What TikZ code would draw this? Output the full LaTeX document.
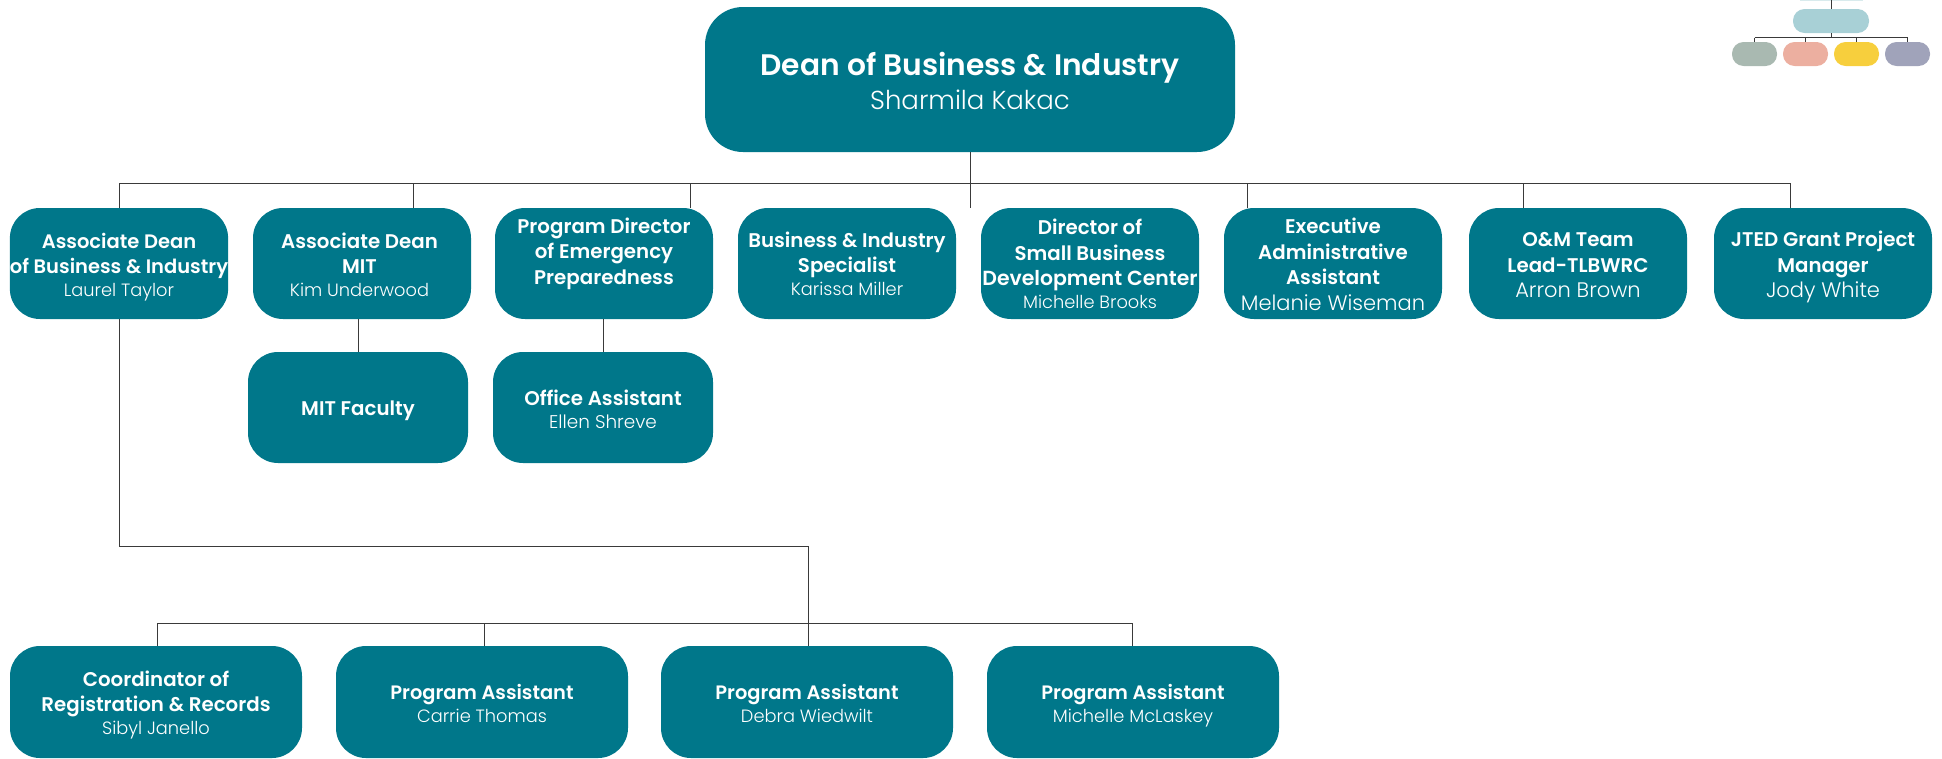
\documentclass[tikz,border=0pt]{standalone}
\usepackage{fontspec}
\setmainfont{Poppins}
\newfontfamily\lightf{Poppins Light}
\newfontfamily\boldf{Poppins SemiBold}
\usetikzlibrary{calc}
\definecolor{teal}{HTML}{00778A}
\definecolor{linec}{HTML}{3A3A3A}
\definecolor{legblue}{HTML}{A8D0D6}
\definecolor{leggray}{HTML}{A9B9B1}
\definecolor{legpink}{HTML}{ECAFA0}
\definecolor{legyellow}{HTML}{F7CF3D}
\definecolor{legpurple}{HTML}{A0A3BA}
\newcommand{\tdy}{-8.5pt}
\newcommand{\ttlx}[2][19.8]{\raisebox{\tdy}[0pt][0pt]{\boldf\fontsize{#1}{26}\selectfont #2}}
\newcommand{\nmx}[2][17.8]{\raisebox{\tdy}[0pt][0pt]{\lightf\fontsize{#1}{26}\selectfont #2}}
\tikzset{
  x=1pt,y=-1pt,
  textdy/.style={execute at begin node={\renewcommand{\tdy}{#1}}},
  boxn/.style={fill=teal,text=white,rounded corners=30pt,inner sep=0pt,align=center,minimum width=218pt,minimum height=111pt,font=\fontsize{19.8}{25.5}\selectfont},
  wide/.style={boxn,minimum width=292pt,minimum height=112pt},
  conn/.style={draw=linec,line width=0.95pt},
  leg/.style={rounded corners=11.5pt,inner sep=0pt,minimum width=45pt,minimum height=24pt},
  lconn/.style={draw=linec,line width=0.8pt}
}
\begin{document}
\begin{tikzpicture}
\useasboundingbox (0,0) rectangle (1942,758);
% Dean
\node[boxn,rounded corners=38pt,minimum width=530pt,minimum height=145pt,font=\fontsize{30}{34.5}\selectfont,textdy=-13pt] (dean) at (970,79.5) {\ttlx[29.7]{Dean of Business \& Industry}\\\nmx[26]{Sharmila Kakac}};
% second row
\node[boxn,textdy=-9pt] (a) at (119,263.5) {\ttlx[19.5]{Associate Dean}\\\ttlx[19.5]{of Business \& Industry}\\[-2.5pt]\nmx{Laurel Taylor}};
\node[boxn,textdy=-9pt] (b) at (362,263.5) {\ttlx{Associate Dean}\kern5pt\\\ttlx{MIT}\kern5pt\\[-2.5pt]\nmx{Kim Underwood}\kern5pt};
\node[boxn,textdy=5pt] (c) at (604,263.5) {\ttlx{Program Director}\\\ttlx{of Emergency}\\\ttlx{Preparedness}};
\node[boxn,textdy=-8pt] (d) at (847,263.5) {\ttlx{Business \& Industry}\\\ttlx{Specialist}\\[-2.5pt]\nmx{Karissa Miller}};
\node[boxn,textdy=-8pt] (e) at (1090,263.5) {\ttlx{Director of}\\\ttlx{Small Business}\\\ttlx[20.4]{Development Center}\\[-2.5pt]\nmx{Michelle Brooks}};
\node[boxn] (f) at (1333,263.5) {\ttlx{Executive}\\\ttlx{Administrative}\\\ttlx{Assistant}\\\nmx[21]{Melanie Wiseman}};
\node[boxn] (g) at (1578,263.5) {\ttlx{O\&M Team}\\\ttlx{Lead-TLBWRC}\\\nmx[21]{Arron Brown}};
\node[boxn] (h) at (1823,263.5) {\ttlx{JTED Grant Project}\\\ttlx{Manager}\\\nmx[21]{Jody White}};
% third row
\node[boxn,minimum width=220pt,textdy=-8pt] (mit) at (358,407.5) {\ttlx{MIT Faculty}};
\node[boxn,minimum width=220pt,textdy=-9pt] (off) at (603,407.5) {\ttlx{Office Assistant}\\[-2.5pt]\nmx[18.4]{Ellen Shreve}};
% fourth row
\node[wide] (r1) at (156,702) {\ttlx{Coordinator of}\\\ttlx{Registration \& Records}\\[-2.5pt]\nmx{Sibyl Janello}};
\node[wide,textdy=-9pt] (r2) at (482,702) {\ttlx[19.4]{Program Assistant}\\[-2.5pt]\nmx{Carrie Thomas}};
\node[wide,textdy=-9pt] (r3) at (807,702) {\ttlx[19.4]{Program Assistant}\\[-2.5pt]\nmx{Debra Wiedwilt}};
\node[wide,textdy=-9pt] (r4) at (1133,702) {\ttlx[19.4]{Program Assistant}\\[-2.5pt]\nmx{Michelle McLaskey}};
% bus coordinates
\coordinate (hub) at (970,183);
\coordinate (ba) at (119.5,183);
\coordinate (bb) at (413,183);
\coordinate (bc) at (690,183);
\coordinate (bf) at (1247,183);
\coordinate (bg) at (1523,183);
\coordinate (bh) at (1790,183);
\coordinate (dropr) at (808,546);
\coordinate (l1) at (157,623);
\coordinate (l2) at (484,623);
\coordinate (l4) at (1132,623);
\draw[conn] (dean.south -| hub) -- (hub) -- (hub |- d.north);
\draw[conn] (ba) -- (bh);
\foreach \t/\n in {ba/a,bb/b,bc/c,bf/f,bg/g,bh/h} \draw[conn] (\t) -- (\t |- \n.north);
\draw[conn] (mit.north) -- (mit.north |- b.south);
\draw[conn] (off.north) -- (off.north |- c.south);
\draw[conn] (ba |- a.south) -- (ba |- dropr) -- (dropr) -- (dropr |- r3.north);
\draw[conn] (l1) -- (l4);
\foreach \t/\n in {l1/r1,l2/r2,l4/r4} \draw[conn] (\t) -- (\t |- \n.north);
% legend
\coordinate (ltop) at (1831.7,0);
\coordinate (lbus) at (1831.7,37.5);
\fill[fill=teal!15!white] (1800,0) rectangle (1863,1);
\node[leg,fill=legblue,minimum width=76pt] (lm) at (1831,21) {};
\node[leg,fill=leggray] (l-a) at (1754.5,54) {};
\node[leg,fill=legpink] (l-b) at (1805.5,54) {};
\node[leg,fill=legyellow] (l-c) at (1856.5,54) {};
\node[leg,fill=legpurple] (l-d) at (1907.5,54) {};
\draw[lconn] (ltop) -- (lm.north -| ltop);
\draw[lconn] (lm.south -| lbus) -- (lbus);
\draw[lconn] (lbus -| l-a) -- (lbus -| l-d);
\foreach \n in {l-a,l-b,l-c,l-d} \draw[lconn] (lbus -| \n) -- (\n.north);
\end{tikzpicture}
\end{document}
